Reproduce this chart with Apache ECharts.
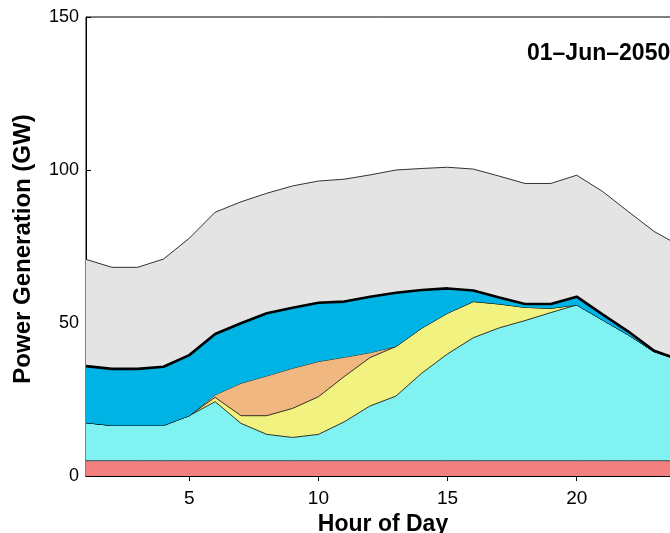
<!DOCTYPE html>
<html>
<head>
<meta charset="utf-8">
<script src="https://cdn.jsdelivr.net/npm/echarts@6/dist/echarts.min.js"></script>
<style>
  html, body { margin: 0; padding: 0; background: #fff; }
  #chart { width: 670px; height: 533px; }
</style>
</head>
<body>
<div id="chart"></div>
<script>
const hours = [1, 2, 3, 4, 5, 6, 7, 8, 9, 10, 11, 12, 13, 14, 15, 16, 17, 18, 19, 20, 21, 22, 23, 24]
const xTicks = [5, 10, 15, 20]

// generation by source, GW (stacked bottom to top)
const redBase = [5, 5, 5, 5, 5, 5, 5, 5, 5, 5, 5, 5, 5, 5, 5, 5, 5, 5, 5, 5, 5, 5, 5, 5]
const cyanGen = [12.4, 11.5, 11.5, 11.5, 14.7, 19.3, 12.2, 8.6, 7.6, 8.6, 12.7, 17.9, 21.1, 28.6, 34.9, 40.2, 43.4, 45.8, 48.4, 50.9, 46.0, 41.1, 35.6, 32.8]
const yellowGen = [0, 0, 0, 0, 0, 1.4, 2.5, 6.1, 9.5, 12.3, 14.8, 15.8, 16.2, 14.7, 13.3, 11.8, 7.8, 4.3, 1.4, 0, 0, 0, 0, 0]
const orangeGen = [0, 0, 0, 0, 0, 0.8, 10.6, 13.0, 13.1, 11.5, 6.3, 1.6, 0, 0, 0, 0, 0, 0, 0, 0, 0, 0, 0, 0]
const blueGen = [18.5, 18.5, 18.5, 19.2, 19.8, 19.9, 19.6, 20.5, 19.8, 19.2, 18.2, 18.3, 17.6, 12.5, 8.1, 3.6, 2.1, 1.1, 1.4, 2.7, 1.8, 1.1, 0.3, 0.2]
const grayGen = [34.9, 33.2, 33.2, 35.2, 38.2, 39.8, 39.7, 39.2, 39.8, 39.8, 40.0, 39.8, 40.1, 39.7, 39.6, 39.7, 39.7, 39.4, 39.4, 39.7, 40.2, 39.2, 39.0, 37.2]

const chartFont = 'Liberation Sans'
const isTick = (index, value) => xTicks.includes(Number(value))

function makeSeries(name, values, fill, lineWidth, lineColor, z) {
  return {
    name: name,
    type: 'line',
    stack: 'gen',
    symbol: 'none',
    z: z,
    data: values,
    lineStyle: { color: lineColor, width: lineWidth },
    areaStyle: { color: fill, opacity: 1 }
  }
}

const chart = echarts.init(document.getElementById('chart'))
chart.setOption({
  animation: false,
  grid: {
    left: 86,
    width: 594, // plot runs past the right edge of the picture
    top: 17,
    height: 459,
    outerBoundsMode: 'none',
    show: true,
    borderColor: '#000',
    borderWidth: 1
  },
  title: {
    text: '01–Jun–2050',
    left: 522,
    top: 37,
    textStyle: { fontFamily: chartFont, fontSize: 23, fontWeight: 'bold', color: '#000' }
  },
  xAxis: [
    {
      type: 'category',
      data: hours,
      boundaryGap: false,
      name: 'Hour of Day',
      nameLocation: 'middle',
      nameGap: 37,
      nameTextStyle: { fontFamily: chartFont, fontSize: 23, fontWeight: 'bold', color: '#000' },
      axisLine: { show: true, onZero: false, lineStyle: { color: '#000' } },
      axisTick: { show: true, inside: true, length: 5, interval: isTick, lineStyle: { color: '#000' } },
      axisLabel: { interval: isTick, fontFamily: chartFont, fontSize: 19, color: '#000', margin: 13 },
      splitLine: { show: false }
    },
    {
      type: 'category',
      data: hours,
      boundaryGap: false,
      position: 'top',
      axisLine: { show: true, lineStyle: { color: '#000' } },
      axisTick: { show: true, inside: true, length: 5, interval: isTick, lineStyle: { color: '#000' } },
      axisLabel: { show: false },
      splitLine: { show: false }
    }
  ],
  yAxis: {
    type: 'value',
    min: 0,
    max: 150,
    interval: 50,
    name: 'Power Generation (GW)',
    nameLocation: 'middle',
    nameGap: 51,
    nameTextStyle: { fontFamily: chartFont, fontSize: 24, fontWeight: 'bold', color: '#000', padding: [0, 5, 0, 0] },
    axisLine: { show: true, lineStyle: { color: '#000' } },
    axisTick: { show: true, inside: true, length: 5, lineStyle: { color: '#000' } },
    axisLabel: { fontFamily: chartFont, fontSize: 18, color: '#000', margin: 7 },
    splitLine: { show: false }
  },
  series: [
    makeSeries('red', redBase, '#F28080', 1, '#2f4f4f', 2),
    makeSeries('cyan', cyanGen, '#80F2F2', 0.8, '#000', 2),
    makeSeries('yellow', yellowGen, '#F2F280', 0.8, '#000', 2),
    makeSeries('orange', orangeGen, '#F0B880', 0.8, '#000', 2),
    makeSeries('blue', blueGen, '#00B3E5', 2.6, '#000', 3),
    makeSeries('gray', grayGen, '#E4E4E4', 0.8, '#000', 2)
  ]
})
</script>
</body>
</html>
